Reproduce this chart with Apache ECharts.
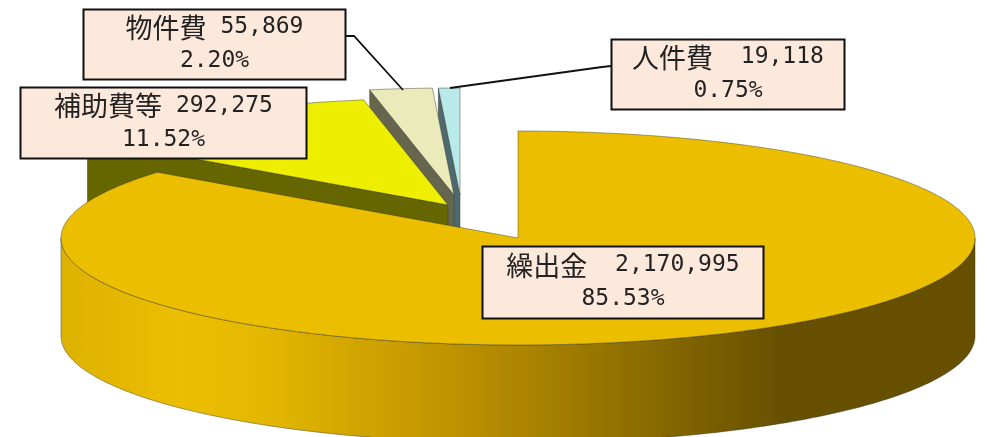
<!DOCTYPE html>
<html>
<head>
<meta charset="utf-8">
<style>html,body{margin:0;padding:0;background:#fff}#chart{width:987px;height:437px}</style>
<script src="https://cdn.jsdelivr.net/npm/echarts@6/dist/echarts.min.js"></script>
</head>
<body>
<div id="chart"></div>
<script>
// Expenditure breakdown, clockwise from 12 o'clock
const categories = ['繰出金', '補助費等', '物件費', '人件費'];
const amounts = [2170995, 292275, 55869, 19118];
const shareLabels = ['85.53%', '11.52%', '2.20%', '0.75%'];
const nameGaps = ['  ', ' ', ' ', '  '];

// Tilted-disc projection
const CX = 518, CY = 238, RX = 457, RY = 107, DEPTH = 98;

// Per-slice drawing settings
const explode = [[0, 0], [-70, -33], [-64, -43], [-58, -43]];
const topColors = ['#EBBE00', '#EEEE00', '#EAEABB', '#B8EAEA'];
const wallColors = [null, '#666600', '#66664F', '#4F6A6E'];
const labelBoxes = [
  [482, 246, 282, 73],
  [20, 87, 287, 72],
  [83, 9, 263, 71],
  [611, 39, 234, 71]
];
const leaderLines = [
  null,
  null,
  [[346, 36], [354, 36], [403, 90]],
  [[611, 66], [602, 67], [450, 88]]
];

const total = amounts.reduce((a, b) => a + b, 0);
const toAngle = v => v / total * Math.PI * 2;

function rimPoint(theta, ox, oy, drop) {
  return [CX + ox + RX * Math.sin(theta), CY + oy - RY * Math.cos(theta) + (drop || 0)];
}
function arcPoints(a, b, ox, oy, drop) {
  const n = Math.max(2, Math.ceil(Math.abs(b - a) / 0.01));
  const out = [];
  for (let i = 0; i <= n; i++) out.push(rimPoint(a + (b - a) * i / n, ox, oy, drop));
  return out;
}
const edge = { stroke: 'rgba(50,50,40,0.55)', lineWidth: 0.8 };

function renderSlice(params, api) {
  const i = api.value(0);
  let a0 = 0;
  for (let k = 0; k < i; k++) a0 += toAngle(amounts[k]);
  const a1 = a0 + toAngle(api.value(1));
  const [ox, oy] = explode[i];
  const apex = [CX + ox, CY + oy];
  const children = [];
  const z = 10 + (amounts.length - i) * 2;

  if (i === 0) {
    // Only the near half of the rim faces the viewer
    const front = arcPoints(Math.PI / 2, Math.PI * 1.5, ox, oy, 0);
    const back = arcPoints(Math.PI * 1.5, Math.PI / 2, ox, oy, DEPTH);
    children.push({
      type: 'polygon', z2: z,
      shape: { points: front.concat(back) },
      style: Object.assign({
        fill: {
          type: 'linear', global: true, x: CX - RX, y: 0, x2: CX + RX, y2: 0,
          colorStops: [
            { offset: 0, color: '#DDB200' },
            { offset: 0.13, color: '#EBBE00' },
            { offset: 0.22, color: '#E4B800' },
            { offset: 0.43, color: '#BE9200' },
            { offset: 0.79, color: '#665000' },
            { offset: 1, color: '#665000' }
          ]
        }
      }, edge)
    });
  } else {
    // Cut face running from the apex out to the leading corner
    const corner = rimPoint(a0, ox, oy);
    children.push({
      type: 'polygon', z2: z,
      shape: { points: [apex, corner, [corner[0], corner[1] + DEPTH], [apex[0], apex[1] + DEPTH]] },
      style: Object.assign({ fill: wallColors[i] }, edge)
    });
  }
  children.push({
    type: 'polygon', z2: z + 1,
    shape: { points: [apex].concat(arcPoints(a0, a1, ox, oy, 0)) },
    style: Object.assign({ fill: topColors[i] }, edge)
  });
  return { type: 'group', children };
}

function renderLabel(params, api) {
  const i = api.value(0);
  const [x, y, w, h] = labelBoxes[i];
  const amount = api.value(1).toLocaleString('en-US');
  const children = [];
  if (leaderLines[i]) {
    children.push({
      type: 'polyline', z2: 40,
      shape: { points: leaderLines[i] },
      style: { stroke: '#111', lineWidth: 1.8, fill: 'none' }
    });
  }
  children.push({
    type: 'rect', z2: 50,
    shape: { x: x + 0.5, y: y + 0.5, width: w - 1, height: h - 1 },
    style: { fill: '#FDE9DC', stroke: '#111', lineWidth: 2 }
  });
  children.push({
    type: 'text', z2: 51,
    x: x + w / 2, y: y + h / 2,
    style: {
      text: '{c|' + categories[i] + '}{n|' + nameGaps[i] + amount + '}\n{n|' + shareLabels[i] + '}',
      align: 'center', verticalAlign: 'middle',
      rich: {
        c: { fontFamily: '"Noto Sans CJK JP"', fontSize: 27, lineHeight: 34, fill: '#222' },
        n: { fontFamily: '"DejaVu Sans Mono"', fontSize: 23, lineHeight: 34, fill: '#222' }
      }
    }
  });
  return { type: 'group', children };
}

const rows = amounts.map((v, i) => [i, v]);
const chart = echarts.init(document.getElementById('chart'), null, { renderer: 'canvas' });
chart.setOption({
  animation: false,
  backgroundColor: '#fff',
  series: [
    { type: 'custom', coordinateSystem: 'none', silent: true, z: 2, data: rows, renderItem: renderSlice },
    { type: 'custom', coordinateSystem: 'none', silent: true, z: 3, data: rows, renderItem: renderLabel }
  ]
});
</script>
</body>
</html>
